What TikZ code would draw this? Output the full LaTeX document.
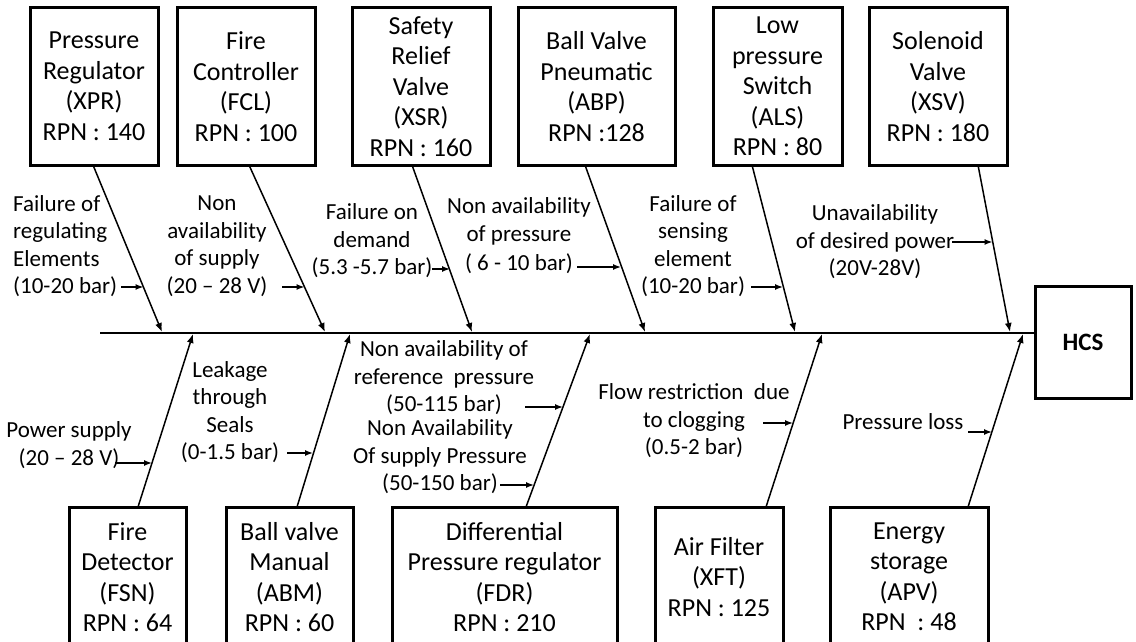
\documentclass[tikz,border=0pt]{standalone}
\usepackage{fontspec}
\setmainfont{Carlito}
\usetikzlibrary{arrows.meta}
\tikzset{
  box/.style={draw, line width=3pt, align=center, inner sep=0pt, font=\fontsize{26}{30.5}\selectfont},
  lbl/.style={align=center, inner sep=0pt, font=\fontsize{23}{27.5}\selectfont},
  branch/.style={line width=1.5pt, -{Latex[length=9pt,width=7pt]}},
  tick/.style={line width=1.4pt, -{Latex[length=8pt,width=6pt]}},
  spine/.style={line width=2pt},
}
\begin{document}
\begin{tikzpicture}[x=1pt,y=-1pt]
\path[use as bounding box] (0,0) rectangle (1136,642);
\clip (0,0) rectangle (1136,642);

% top boxes
\node[box, minimum width=128pt, minimum height=157pt] (b1) at (94,86.5) {Pressure\\Regulator\\(XPR)\\RPN : 140};
\node[box, minimum width=138pt, minimum height=157pt] (b2) at (246,86.5) {Fire\\Controller\\(FCL)\\RPN : 100};
\node[box, minimum width=138pt, minimum height=157pt] (b3) at (421,86.5) {Safety\\Relief\\Valve\\(XSR)\\RPN : 160};
\node[box, minimum width=157pt, minimum height=157pt] (b4) at (596.5,86.5) {Ball Valve\\Pneumatic\\(ABP)\\RPN :128};
\node[box, minimum width=129pt, minimum height=157pt] (b5) at (777.5,86.5) {Low\\pressure\\Switch\\(ALS)\\RPN : 80};
\node[box, minimum width=138pt, minimum height=157pt] (b6) at (938,86.5) {Solenoid\\Valve\\(XSV)\\RPN : 180};

% bottom boxes (run off the lower edge)
\node[box, minimum width=117pt, minimum height=140pt] (c1) at (127.5,577) {Fire\\Detector\\(FSN)\\RPN : 64};
\node[box, minimum width=127pt, minimum height=140pt] (c2) at (289.5,577) {Ball valve\\Manual\\(ABM)\\RPN : 60};
\node[box, minimum width=225pt, minimum height=140pt] (c3) at (504.5,577) {Differential\\Pressure regulator\\(FDR)\\RPN : 210};
\node[box, minimum width=128pt, minimum height=140pt] (c4) at (719,577) {Air Filter\\(XFT)\\RPN : 125};
\node[box, minimum width=158pt, minimum height=140pt] (c5) at (909,577) {Energy\\storage\\(APV)\\RPN~~: 48};

% effect box
\node[box, minimum width=96pt, minimum height=112pt, font=\fontsize{25}{28}\selectfont\bfseries] (hcs) at (1083,342) {HCS};

% spine
\coordinate (sL) at (100,333);
\draw[spine] (sL) -- (sL -| hcs.west);

% branch end points
\coordinate (t1) at (93,165);   \coordinate (e1) at (162,332);
\coordinate (t2) at (249,165);  \coordinate (e2) at (325,332);
\coordinate (t3) at (412,165);  \coordinate (e3) at (472,332);
\coordinate (t4) at (585,165);  \coordinate (e4) at (645,332);
\coordinate (t5) at (752,165);  \coordinate (e5) at (795,332);
\coordinate (t6) at (978,165);  \coordinate (e6) at (1010,332);
\coordinate (u1) at (138,507);  \coordinate (f1) at (193,334);
\coordinate (u2) at (297,507);  \coordinate (f2) at (350,334);
\coordinate (u3) at (526,507);  \coordinate (f3) at (590,334);
\coordinate (u4) at (766,507);  \coordinate (f4) at (822,334);
\coordinate (u5) at (968,507);  \coordinate (f5) at (1023,334);

\foreach \i in {1,...,6} { \draw[branch] (t\i) -- (e\i); }
\foreach \i in {1,...,5} { \draw[branch] (u\i) -- (f\i); }

% labels
\node[lbl, align=left, anchor=west] (l1) at (13,246) {Failure of\\regulating\\Elements\\(10-20 bar)};
\node[lbl] (l2) at (217,246) {Non\\availability\\of supply\\(20 – 28 V)};
\node[lbl] (l3) at (372,241) {Failure on\\demand\\(5.3 -5.7 bar)};
\node[lbl] (l4) at (519,236) {Non availability\\of pressure\\[2pt]( 6 - 10 bar)};
\node[lbl] (l5) at (693,246) {Failure of\\sensing\\element\\(10-20 bar)};
\node[lbl] (l6) at (875,242) {Unavailability\\of desired power\\(20V-28V)};
\node[lbl] (l7) at (69,445) {Power supply\\(20 – 28 V)};
\node[lbl] (l8) at (230,412) {Leakage\\through\\Seals\\(0-1.5 bar)};
\node[lbl] (l9) at (444,378) {Non availability of\\reference~~pressure\\(50-115 bar)};
\node[lbl] (l10) at (440,457) {Non Availability\\Of supply Pressure\\(50-150 bar)};
\node[lbl] (l11) at (694,421) {Flow restriction~~due\\to clogging\\(0.5-2 bar)};
\node[lbl] (l12) at (903,422) {Pressure loss};

% small arrows to the branches
\coordinate (a1) at (121,287);  \coordinate (p1) at (143.5,287);
\coordinate (a2) at (282,287);  \coordinate (p2) at (304.5,287);
\coordinate (a3) at (432,269);  \coordinate (p3) at (450,269);
\coordinate (a4) at (577,267);  \coordinate (p4) at (621,267);
\coordinate (a5) at (751,287);  \coordinate (p5) at (783,287);
\coordinate (a6) at (952,242);  \coordinate (p6) at (992.5,242);
\coordinate (a7) at (115,463);  \coordinate (p7) at (152,463);
\coordinate (a8) at (287,453);  \coordinate (p8) at (313,453);
\coordinate (a9) at (525,407);  \coordinate (p9) at (563,407);
\coordinate (a10) at (500,485); \coordinate (p10) at (534,485);
\coordinate (a11) at (763,423); \coordinate (p11) at (793,423);
\coordinate (a12) at (968,432); \coordinate (p12) at (992,432);
\foreach \i in {1,...,12} { \draw[tick] (a\i) -- (p\i); }
\end{tikzpicture}
\end{document}
